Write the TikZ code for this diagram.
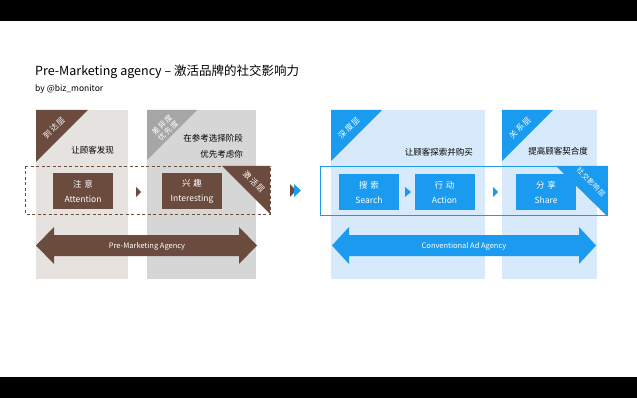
\documentclass[tikz,border=0pt]{standalone}
\usepackage{fontspec}
\setmainfont{Noto Sans CJK SC}
\definecolor{brn}{HTML}{6B4B3E}
\definecolor{bgA}{HTML}{E6E2DF}
\definecolor{bgB}{HTML}{D6D6D6}
\definecolor{gryT}{HTML}{A6A6A6}
\definecolor{blu}{HTML}{1A9BF0}
\definecolor{lblu}{HTML}{D7EAFB}
\begin{document}
\begin{tikzpicture}[x=1pt,y=-1pt,
  stagebox/.style={minimum width=60pt,minimum height=36pt,inner sep=0pt,text=white,align=center,font=\fontsize{8.5}{15}\selectfont},
  coltext/.style={anchor=east,inner sep=0pt,font=\fontsize{8.5}{10}\selectfont},
  tritext/.style={text=white,inner sep=0pt,align=center,font=\fontsize{8}{9}\selectfont},
  arrowtext/.style={text=white,inner sep=0pt,font=\fontsize{7.5}{9}\selectfont}]
\useasboundingbox (0,0) rectangle (637,398);
\fill[black] (0,0) rectangle (637,398);
\fill[white] (0,21) rectangle (637,377);
% title
\node[anchor=west,inner sep=0pt,font=\fontsize{12.5}{15}\selectfont] (title) at (35,72) {Pre-Marketing agency -- 激活品牌的社交影响力};
\node[anchor=west,inner sep=0pt,font=\fontsize{8.5}{10}\selectfont] (sub) at (35,89) {by @biz\_monitor};
% panels
\fill[bgA] (36,110) rectangle (128,279);
\fill[bgB] (147,110) rectangle (256,279);
\fill[lblu] (331,110) rectangle (485,279);
\fill[lblu] (502,110) rectangle (597,279);
% dashed and solid frames
\draw[brn,line width=0.8pt,dash pattern=on 3pt off 2.5pt] (25,166) rectangle (270,214);
\draw[blu,line width=0.9pt] (320,166) rectangle (607,215);
% corner triangles
\fill[brn] (36,110) -- (88,110) -- (36,162) -- cycle;
\node[tritext,rotate=45] (t1) at (54,128) {到\,达\,层};
\fill[gryT] (147,110) -- (197,110) -- (147,160) -- cycle;
\node[tritext,rotate=45,font=\fontsize{7.5}{8.5}\selectfont] (t2) at (165,128) {差\,异\,度\\优\,先\,度};
\fill[blu] (331,110) -- (382,110) -- (331,161) -- cycle;
\node[tritext,rotate=45] (t3) at (349,128) {深\,度\,层};
\fill[blu] (502,110) -- (553,110) -- (502,161) -- cycle;
\node[tritext,rotate=45] (t4) at (520,128) {关\,系\,层};
\fill[brn] (222,166) -- (270,166) -- (270,214) -- cycle;
\node[tritext,rotate=-45] (t5) at (254,182) {激\,活\,层};
\fill[blu] (556,166) -- (607,166) -- (607,216) -- cycle;
\node[tritext,rotate=-45,font=\fontsize{7}{8}\selectfont] (t6) at (591,182) {社\hspace{0.5pt}交\hspace{0.5pt}影\hspace{0.5pt}响\hspace{0.5pt}层};
% column texts
\node[coltext] (c1) at (114,150) {让顾客发现};
\node[coltext] (c2a) at (243,138) {在参考选择阶段};
\node[coltext] (c2b) at (243,154) {优先考虑你};
\node[coltext] (c3) at (473,152) {让顾客探索并购买};
\node[coltext] (c4) at (588,151) {提高顾客契合度};
% stage boxes
\node[stagebox,fill=brn] (att) at (83,191.5) {注\,\,意\\Attention};
\node[stagebox,fill=brn] (int) at (192,191.5) {兴\,\,趣\\Interesting};
\node[stagebox,fill=blu] (sea) at (369,192) {搜\,\,索\\Search};
\node[stagebox,fill=blu] (act) at (444.5,192) {行\,\,动\\Action};
\node[stagebox,fill=blu] (sha) at (546,192) {分\,\,享\\Share};
% small arrows
\fill[brn] (136,187) -- (141,192) -- (136,197) -- cycle;
\fill[blu] (405,187) -- (411,192) -- (405,197) -- cycle;
\fill[blu] (493,187) -- (498,192) -- (493,197) -- cycle;
\fill[brn] (290,184) -- (296,190.5) -- (290,197) -- cycle;
\fill[blu] (294,184) -- (301,190.5) -- (294,197) -- cycle;
% double arrows
\fill[brn] (36,245.5) -- (54,227) -- (54,235) -- (239,235) -- (239,227) -- (257,245.5) -- (239,264) -- (239,256) -- (54,256) -- (54,264) -- cycle;
\node[arrowtext] (pma) at (147,246) {Pre-Marketing Agency};
\fill[blu] (332,245.5) -- (349,227) -- (349,235) -- (579,235) -- (579,227) -- (596,245.5) -- (579,264) -- (579,256) -- (349,256) -- (349,264) -- cycle;
\node[arrowtext] (caa) at (464,246) {Conventional Ad Agency};
\end{tikzpicture}
\end{document}
